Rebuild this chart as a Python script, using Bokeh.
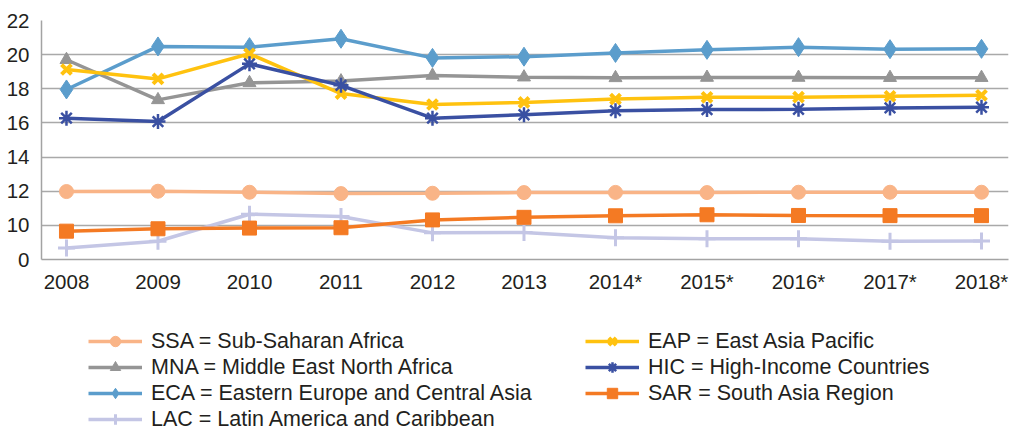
from bokeh.plotting import figure
from bokeh.layouts import column
from bokeh.models import Legend, LegendItem, FixedTicker, Range1d
from bokeh.embed import file_html
from bokeh.resources import INLINE

years = [2008, 2009, 2010, 2011, 2012, 2013, 2014, 2015, 2016, 2017, 2018]
year_labels = ["2008", "2009", "2010", "2011", "2012", "2013", "2014*", "2015*", "2016*", "2017*", "2018*"]
y_ticks = [8, 10, 12, 14, 16, 18, 20, 22]
y_tick_labels = ["0", "10", "12", "14", "16", "18", "20", "22"]

ssa = [11.98, 12.00, 11.94, 11.86, 11.88, 11.92, 11.93, 11.92, 11.94, 11.94, 11.94]
mna = [19.70, 17.35, 18.35, 18.45, 18.78, 18.68, 18.64, 18.66, 18.66, 18.65, 18.65]
eca = [17.96, 20.48, 20.44, 20.93, 19.81, 19.88, 20.10, 20.28, 20.44, 20.32, 20.34]
lac = [8.68, 9.07, 10.65, 10.52, 9.56, 9.58, 9.27, 9.22, 9.22, 9.07, 9.08]
eap = [19.13, 18.58, 20.05, 17.72, 17.08, 17.20, 17.40, 17.50, 17.51, 17.56, 17.62]
hic = [16.28, 16.08, 19.46, 18.20, 16.28, 16.48, 16.72, 16.78, 16.80, 16.88, 16.92]
sar = [9.66, 9.80, 9.84, 9.86, 10.32, 10.47, 10.56, 10.62, 10.58, 10.57, 10.57]

series = [
    ("SSA = Sub-Saharan Africa", ssa, "#F9B487", "circle", 14, 1),
    ("MNA = Middle East North Africa", mna, "#959595", "triangle", 13, 1),
    ("ECA = Eastern Europe and Central Asia", eca, "#5B9DCC", "diamond", 19, 1),
    ("LAC = Latin America and Caribbean", lac, "#C4C6E5", "cross", 17, 3),
    ("EAP = East Asia Pacific", eap, "#FFC20F", "x", 14, 4),
    ("HIC = High-Income Countries", hic, "#3A50A2", "asterisk", 15, 2.5),
    ("SAR = South Asia Region", sar, "#F47A23", "square", 14, 1),
]

FONT = "Liberation Sans"
TXT = "#231F20"

p = figure(width=1010, height=295, output_backend="svg", toolbar_location=None,
           x_range=Range1d(2007.727, 2018.295), y_range=Range1d(8, 22),
           min_border_left=41, min_border_right=2, min_border_top=20,
           min_border_bottom=36)
p.outline_line_color = None
p.background_fill_color = "white"
p.border_fill_color = "white"

p.xaxis.ticker = FixedTicker(ticks=years)
p.xaxis.major_label_overrides = {y: l for y, l in zip(years, year_labels)}
p.yaxis.ticker = FixedTicker(ticks=y_ticks)
p.yaxis.major_label_overrides = {t: l for t, l in zip(y_ticks, y_tick_labels)}
for ax in (p.xaxis, p.yaxis):
    ax.major_tick_line_color = None
    ax.minor_tick_line_color = None
    ax.axis_line_color = "#A3A3A3"
    ax.axis_line_width = 1.5
    ax.major_label_text_font = FONT
    ax.major_label_text_font_size = "20.5px"
    ax.major_label_text_color = TXT
p.xaxis.major_label_standoff = 4
p.yaxis.major_label_standoff = 6
p.xgrid.visible = False
p.ygrid.ticker = FixedTicker(ticks=y_ticks)
p.ygrid.grid_line_color = "#A9A9A9"
p.ygrid.grid_line_width = 1.5

for label, vals, color, marker, size, lw in series:
    p.line(years, vals, line_color=color, line_width=3.5)
    p.scatter(years, vals, marker=marker, size=size, fill_color=color,
              line_color=color, line_width=lw)

# legend panel below the chart (its frame is aligned with the chart's frame)
p2 = figure(width=1010, height=137, output_backend="svg", toolbar_location=None,
            x_range=Range1d(0, 1), y_range=Range1d(0, 1),
            min_border_left=41, min_border_right=2, min_border_top=0,
            min_border_bottom=0)
p2.axis.visible = False
p2.grid.visible = False
p2.outline_line_color = None

items = []
for label, vals, color, marker, size, lw in series:
    # legend-only renderers placed outside the visible range
    r1 = p2.line([5, 6], [5, 6], line_color=color, line_width=3.5)
    r2 = p2.scatter([5], [5], marker=marker, size=size, fill_color=color,
                    line_color=color, line_width=lw)
    items.append(LegendItem(label=label, renderers=[r1, r2]))

legend = Legend(items=items, location=(47, 0), orientation="vertical",
                nrows=4, glyph_width=54, glyph_height=26, label_height=20,
                label_width=434, label_standoff=9, spacing=0, padding=0,
                margin=0, border_line_color=None, background_fill_alpha=0,
                label_text_font=FONT, label_text_font_size="21.5px",
                label_text_color=TXT)
p2.add_layout(legend, "center")

layout = column(p, p2, spacing=0)
open("out.html", "w").write(file_html(layout, INLINE))
